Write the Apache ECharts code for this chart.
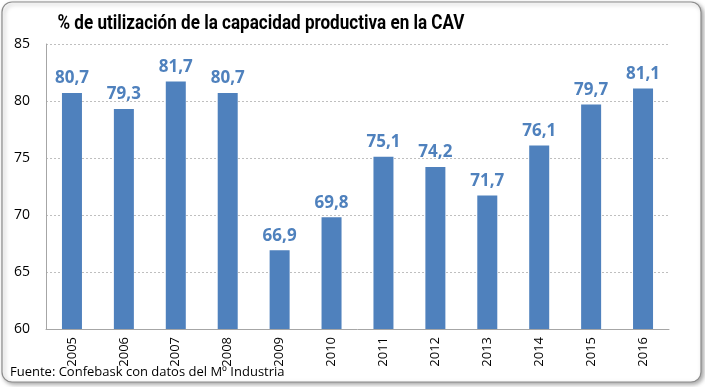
<!DOCTYPE html>
<html><head><meta charset="utf-8">
<script src="https://cdn.jsdelivr.net/npm/echarts@6/dist/echarts.min.js"></script>
<style>html,body{margin:0;padding:0;background:#fff}#c{width:705px;height:387px}</style>
</head><body><div id="c"></div>
<script>
const years = ['2005','2006','2007','2008','2009','2010','2011','2012','2013','2014','2015','2016'];
const utilization = [80.7, 79.3, 81.7, 80.7, 66.9, 69.8, 75.1, 74.2, 71.7, 76.1, 79.7, 81.1];
const yTicks = [60, 65, 70, 75, 80, 85];
const titleText = '% de utilización de la capacidad productiva en la CAV';
const sourceText = 'Fuente: Confebask con datos del Mº Industria';

const titleFont = 'bold 21px Roboto';
const ctx = document.createElement('canvas').getContext('2d');
ctx.font = titleFont;
const titleScale = Math.min(1, 407 / ctx.measureText(titleText).width);

const chart = echarts.init(document.getElementById('c'), null, {renderer:'canvas'});
chart.setOption({
  animation:false,
  backgroundColor:'#fff',
  graphic:[
    {type:'rect', shape:{x:2,y:2,width:699,height:380,r:10}, z:-10,
      style:{fill:'#fff', stroke:'#8c8c8c', lineWidth:1.2, shadowBlur:4, shadowColor:'rgba(0,0,0,0.35)', shadowOffsetX:2, shadowOffsetY:2}},
    {type:'text', x:261, y:24, scaleX:titleScale, style:{text:titleText, font:titleFont, fill:'#000', align:'center', verticalAlign:'middle'}},
    {type:'text', left:10, top:366, style:{text:sourceText, font:'13px "Open Sans"', fill:'#000'}}
  ],
  grid:{left:46, right:36, top:44, bottom:58},
  xAxis:{type:'category', data:years,
    axisLine:{lineStyle:{color:'#a6a6a6'}}, axisTick:{show:false},
    axisLabel:{rotate:90, fontFamily:'Open Sans', fontSize:13, color:'#000', margin:8}},
  yAxis:{type:'value', min:yTicks[0], max:yTicks[yTicks.length-1], interval:5,
    axisLine:{show:true, lineStyle:{color:'#a6a6a6'}}, axisTick:{show:false},
    splitLine:{lineStyle:{color:'#bfbfbf', type:[2,2]}},
    axisLabel:{fontFamily:'Open Sans', fontSize:14, color:'#000', margin:16}},
  series:[{type:'bar', data:utilization, barWidth:20,
    itemStyle:{color:'#4f81bd'},
    label:{show:true, position:'top', distance:6, fontFamily:'Open Sans', fontWeight:'bold', fontSize:17, color:'#4f81bd',
      formatter:p=>p.value.toFixed(1).replace('.',',')}}]
});
</script></body></html>
